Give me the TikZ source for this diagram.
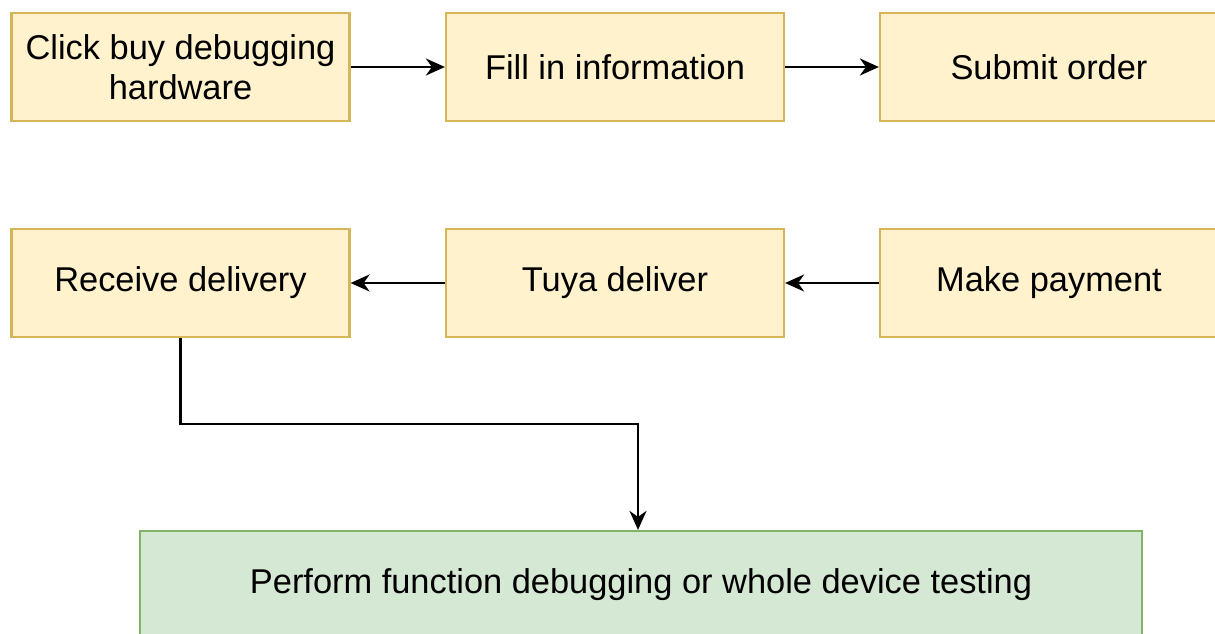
\documentclass[tikz,border=0pt]{standalone}
\usepackage{fontspec}
\setmainfont{Liberation Sans}
\usetikzlibrary{arrows.meta}
\definecolor{stepfill}{HTML}{FFF2CC}
\definecolor{stepline}{HTML}{D6B656}
\definecolor{donefill}{HTML}{D5E8D4}
\definecolor{doneline}{HTML}{82B366}
\tikzset{
  stepbox/.style={draw=stepline, fill=stepfill, line width=2.2pt,
    minimum width=338pt, minimum height=108pt, inner sep=0pt,
    align=center, font=\fontsize{34.4}{40}\selectfont},
  finalbox/.style={stepbox, draw=doneline, fill=donefill, minimum width=1002pt},
  flow/.style={line width=2.2pt, -{Stealth[length=19pt 0,width=17pt 0,inset=6pt 0]}}
}
\begin{document}
\begin{tikzpicture}[x=1pt,y=-1pt]
  \useasboundingbox (0,0) rectangle (1215,634);
  % first row, left to right
  \node[stepbox] (buy)    at (180.5,67) {Click buy debugging\\hardware};
  \node[stepbox] (fill)   at (615,67)   {Fill in information};
  \node[stepbox] (submit) at (1049,67)  {Submit order};
  % second row, right to left
  \node[stepbox] (recv)   at (180.5,283) {Receive delivery};
  \node[stepbox] (tuya)   at (615,283)   {Tuya deliver};
  \node[stepbox] (pay)    at (1049,283)  {Make payment};
  % final step
  \node[finalbox] (perform) at (641,585) {Perform function debugging or whole device testing};
  % connectors
  \draw[flow] (buy) -- (fill);
  \draw[flow] (fill) -- (submit);
  \draw[flow] (pay) -- (tuya);
  \draw[flow] (tuya) -- (recv);
  \draw[flow] (recv.south) -- ++(0,86) -| ([xshift=-3pt]perform.north);
\end{tikzpicture}
\end{document}
